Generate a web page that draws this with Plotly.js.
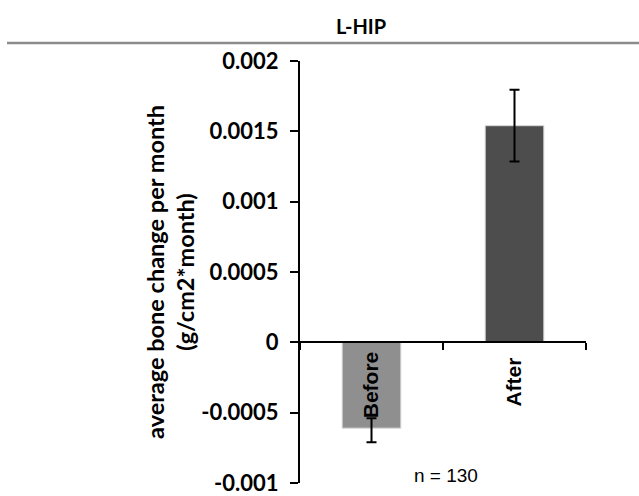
<!DOCTYPE html>
<html>
<head>
<meta charset="utf-8">
<script src="https://cdn.plot.ly/plotly-3.0.1.min.js"></script>
<style>html,body{margin:0;padding:0;background:#fff;}#chart{width:639px;height:496px;}</style>
</head>
<body>
<div id="chart"></div>
<script>
const categories = ['Before', 'After'];
const xTickText = ['Before', 'After\u00a0'];
const values = [-0.00061, 0.00154];
const errPlus = [0.00007, 0.000255];
const errMinus = [0.0001, 0.000255];
const barColors = ['#8f8f8f', '#4d4d4d'];
const yTickVals = [-0.001, -0.0005, 0, 0.0005, 0.001, 0.0015, 0.002];
const yTickText = ['-0.001', '-0.0005', '0', '0.0005', '0.001', '0.0015', '0.002'];
const chartTitle = 'L-HIP';
const yTitle = 'average bone change per month<br>(g/cm2*month)';
const noteText = 'n = 130';

const trace = {
  type: 'bar',
  x: categories,
  y: values,
  width: 0.41,
  marker: {color: barColors, line: {color: '#d6d6d6', width: 1}},
  error_y: {type: 'data', symmetric: false, array: errPlus, arrayminus: errMinus,
            color: '#000', thickness: 2, width: 5},
  hoverinfo: 'none'
};

const layout = {
  width: 639, height: 496,
  margin: {l: 300, r: 53, t: 61, b: 13},
  paper_bgcolor: '#fff', plot_bgcolor: '#fff',
  showlegend: false,
  title: {text: '<b>' + chartTitle + '</b>', x: 361/639, xanchor: 'center', y: 1 - 27/496, yanchor: 'middle', yref: 'container',
          font: {family: 'Lato', size: 20, color: '#000'}},
  xaxis: {
    anchor: 'free', position: 1/3,
    range: [-0.5, 1.5],
    tickmode: 'array', tickvals: categories, ticktext: xTickText,
    showline: true, linecolor: '#000', linewidth: 2,
    ticks: 'outside', tickson: 'boundaries', ticklen: 7, tickwidth: 2, tickcolor: '#000',
    tickangle: -90,
    tickfont: {family: 'Liberation Sans', size: 21, color: '#000', weight: 'bold'},
    showgrid: false, zeroline: false, fixedrange: true
  },
  yaxis: {
    range: [-0.001, 0.002],
    tickmode: 'array', tickvals: yTickVals, ticktext: yTickText,
    showline: true, linecolor: '#000', linewidth: 2,
    ticks: 'outside', ticklen: 8, tickwidth: 2, tickcolor: '#000',
    ticklabelstandoff: 7, ticklabeloverflow: 'allow',
    tickfont: {family: 'Lato', size: 22, color: '#000', weight: 'bold'},
    showgrid: false, zeroline: false,
    title: {text: '<b>' + yTitle + '</b>', font: {family: 'Lato', size: 23.5, color: '#000'}, standoff: 0}
  },
  shapes: [
    {type: 'line', xref: 'paper', yref: 'paper', x0: (7-300)/286, x1: (639-300)/286,
     y0: (483-43)/422, y1: (483-43)/422, line: {color: '#8c8c8c', width: 2.5}}
  ],
  annotations: [
    {text: noteText, xref: 'paper', yref: 'paper', x: (446-300)/286, y: (483-475.5)/422,
     xanchor: 'center', yanchor: 'middle', showarrow: false,
     font: {family: 'Liberation Sans', size: 19, color: '#000'}}
  ]
};

Plotly.newPlot('chart', [trace], layout, {displayModeBar: false, staticPlot: true});
</script>
</body>
</html>
